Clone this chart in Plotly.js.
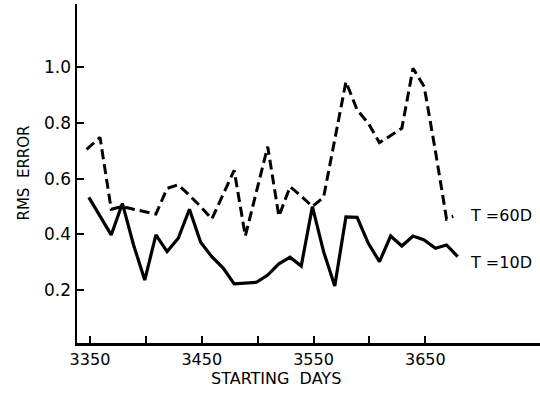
<!DOCTYPE html>
<html>
<head>
<meta charset="utf-8">
<script src="https://cdn.plot.ly/plotly-3.0.1.min.js"></script>
<style>html,body{margin:0;padding:0;background:#fff;}#chart{width:540px;height:396px;}</style>
</head>
<body>
<div id="chart"></div>
<script>
// Starting days (x) for the T=10D curve
const days10 = [3349,3359,3369,3379,3389,3399,3409,3419,3429,3439,3449,3459,3469,3479,3489,3499,3509,3519,3529,3539,3549,3559,3569,3579,3589,3599,3609,3619,3629,3639,3649,3659,3669,3679];
const rms10 = [0.533,0.465,0.398,0.511,0.362,0.236,0.398,0.338,0.386,0.49,0.372,0.32,0.28,0.222,0.226,0.228,0.254,0.294,0.318,0.286,0.5,0.338,0.215,0.463,0.461,0.368,0.302,0.394,0.358,0.394,0.38,0.35,0.362,0.32];
// Starting days (x) for the T=60D curve
const days60 = [3347,3359,3369,3379,3389,3399,3409,3419,3429,3439,3449,3459,3469,3479,3489,3499,3509,3519,3529,3539,3549,3559,3569,3579,3589,3599,3609,3619,3629,3639,3649,3659,3669,3675];
const rms60 = [0.705,0.748,0.49,0.5,0.49,0.482,0.473,0.565,0.578,0.54,0.5,0.455,0.545,0.63,0.394,0.555,0.715,0.465,0.571,0.537,0.5,0.533,0.74,0.948,0.847,0.799,0.729,0.755,0.781,0.996,0.93,0.70,0.455,0.465];
const xTickVals = [3350,3400,3450,3500,3550,3600,3650];
const xTickText = ["3350","","3450","","3550","","3650"];
const yTickVals = [0.2,0.4,0.6,0.8,1.0];
const yTickText = ["0.2","0.4","0.6","0.8","1.0"];
const seriesLabels = ["T =10D","T =60D"];

const FONT = "DejaVu Sans, sans-serif";
const traces = [
  {x: days60, y: rms60, mode: "lines", line: {color: "#000", width: 3, dash: "10px,5px"}, showlegend: false, hoverinfo: "skip"},
  {x: days10, y: rms10, mode: "lines", line: {color: "#000", width: 3.2}, showlegend: false, hoverinfo: "skip"}
];
const layout = {
  width: 540, height: 396,
  margin: {l: 77, r: 0, t: 4, b: 53},
  paper_bgcolor: "#fff", plot_bgcolor: "#fff",
  font: {family: FONT, color: "#000", size: 16},
  showlegend: false,
  xaxis: {
    range: [3338.4, 3752.6], showgrid: false, zeroline: false,
    showline: true, linewidth: 2.5, linecolor: "#000",
    ticks: "inside", ticklen: 7, tickwidth: 2, tickcolor: "#000",
    tickmode: "array", tickvals: xTickVals, ticktext: xTickText,
    tickfont: {family: FONT, size: 16, color: "#000"}
  },
  yaxis: {
    range: [0.01, 1.227], showgrid: false, zeroline: false,
    showline: true, linewidth: 2.5, linecolor: "#000",
    ticks: "inside", ticklen: 7, tickwidth: 2, tickcolor: "#000",
    tickmode: "array", tickvals: yTickVals, ticktext: yTickText,
    tickfont: {family: FONT, size: 17, color: "#000"}
  },
  annotations: [
    {text: "STARTING  DAYS", xref: "paper", yref: "paper", x: 0.43, y: -0.105, xanchor: "center", yanchor: "middle", showarrow: false, font: {family: FONT, size: 16}},
    {text: "RMS  ERROR", xref: "paper", yref: "paper", x: -0.1166, y: 0.5, xanchor: "center", yanchor: "middle", textangle: -90, showarrow: false, font: {family: FONT, size: 15}},
    {text: seriesLabels[1], xref: "x", yref: "y", x: 3688, y: 0.469, xanchor: "left", yanchor: "middle", showarrow: false, font: {family: FONT, size: 16}},
    {text: seriesLabels[0], xref: "x", yref: "y", x: 3688, y: 0.30, xanchor: "left", yanchor: "middle", showarrow: false, font: {family: FONT, size: 16}}
  ]
};
Plotly.newPlot("chart", traces, layout, {staticPlot: true, displayModeBar: false});
</script>
</body>
</html>
